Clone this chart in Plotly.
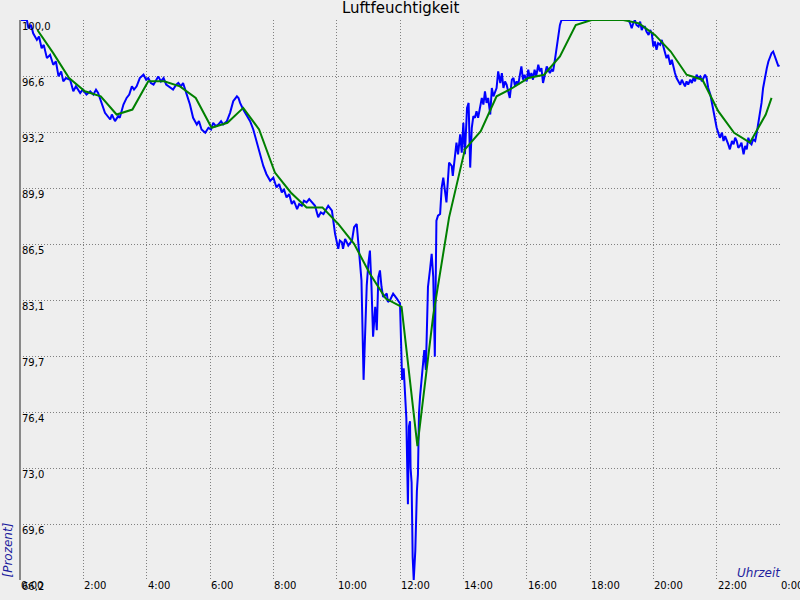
import plotly.graph_objects as go

# ---- data (time in minutes after midnight, relative humidity in %) ----
blue_min = [0, 13, 16, 21, 25, 32, 36, 41, 45, 51, 57, 63, 68, 73, 78, 82, 87, 95, 101, 106,
            114, 119, 126, 133, 139, 144, 148, 155, 161, 171, 174, 180, 186, 189, 196, 202, 207,
            212, 216, 221, 227, 234, 239, 243, 248, 253, 258, 262, 267, 272, 277, 281, 286, 290,
            296, 300, 305, 309, 316, 322, 328, 335, 339, 344, 351, 357, 362, 366, 371, 376, 381,
            385, 392, 398, 404, 411, 414, 417, 423, 430, 436, 442, 449, 455, 461, 467, 474, 480,
            486, 491, 496, 500, 505, 510, 515, 519, 525, 529, 534, 538, 543, 548, 553, 559, 565,
            570, 575, 580, 584, 591, 594, 597, 603, 606, 610, 612, 616, 622, 629, 633, 638, 641,
            644, 647, 651, 654, 657, 660, 663, 666, 669, 673, 676, 679, 682, 685, 688, 695, 697,
            701, 707, 714, 720, 724, 727, 732, 734, 735, 737, 739, 740, 742, 744, 746, 749, 750,
            752, 754, 755, 756, 758, 761, 764, 766, 769, 772, 773, 777, 780, 783, 786, 789, 792,
            796, 799, 802, 805, 808, 813, 818, 820, 824, 827, 830, 834, 837, 840, 843, 847, 850,
            853, 856, 859, 862, 865, 868, 872, 875, 878, 881, 884, 887, 891, 894, 897, 900, 903,
            906, 910, 913, 916, 919, 922, 925, 928, 932, 935, 938, 941, 944, 947, 950, 953, 956,
            960, 963, 966, 969, 972, 975, 978, 982, 985, 988, 991, 994, 998, 1001, 1004, 1007,
            1010, 1014, 1017, 1020, 1023, 1026, 1153, 1156, 1159, 1162, 1165, 1168, 1172, 1175,
            1178, 1181, 1184, 1187, 1191, 1194, 1197, 1200, 1203, 1206, 1209, 1213, 1216, 1219,
            1222, 1225, 1228, 1232, 1235, 1238, 1241, 1244, 1247, 1251, 1254, 1257, 1260, 1263,
            1266, 1270, 1273, 1276, 1279, 1282, 1285, 1289, 1292, 1295, 1298, 1301, 1304, 1308,
            1311, 1314, 1317, 1320, 1323, 1326, 1330, 1333, 1336, 1339, 1342, 1345, 1349, 1352,
            1355, 1358, 1361, 1364, 1367, 1371, 1374, 1377, 1380, 1383, 1386, 1389, 1393, 1396,
            1399, 1402, 1405, 1408, 1412, 1415, 1418, 1421, 1424, 1427, 1431, 1434, 1437, 1438]
blue_val = [100.0, 100.0, 99.5, 99.7, 99.2, 98.8, 99.0, 98.3, 98.5, 97.7, 97.9, 97.3, 97.5, 96.6,
            96.9, 96.3, 96.5, 96.4, 95.7, 96.0, 95.6, 95.8, 95.5, 95.7, 95.5, 95.8, 95.6, 95.0,
            94.4, 94.0, 94.3, 93.9, 94.2, 94.1, 94.9, 95.3, 95.5, 96.0, 95.8, 96.0, 96.5, 96.7,
            96.4, 96.5, 96.2, 96.1, 96.4, 96.6, 96.3, 96.5, 96.1, 96.0, 95.9, 95.8, 96.1, 96.2,
            96.0, 96.2, 95.5, 94.9, 94.1, 93.7, 93.9, 93.4, 93.2, 93.5, 93.4, 93.8, 93.6, 93.7,
            93.9, 93.7, 93.9, 94.4, 95.1, 95.4, 95.3, 95.0, 94.6, 94.2, 93.9, 93.4, 92.6, 92.0,
            91.2, 90.7, 90.3, 90.5, 89.9, 90.1, 89.6, 89.8, 89.3, 89.5, 88.9, 89.1, 88.6, 88.9,
            88.8, 89.1, 89.0, 89.2, 89.0, 88.8, 88.1, 88.4, 88.3, 88.6, 88.8, 88.5, 87.9, 87.1,
            86.2, 86.7, 86.6, 86.2, 86.8, 86.4, 86.7, 87.5, 87.7, 86.7, 85.7, 84.3, 78.3, 81.9,
            84.0, 85.3, 86.1, 83.9, 80.9, 82.7, 81.3, 84.5, 84.9, 83.9, 83.3, 83.5, 83.0, 83.1,
            83.5, 83.2, 82.9, 78.3, 79.0, 76.0, 71.6, 70.8, 75.5, 75.8, 73.0, 72.1, 67.6, 66.23,
            68.0, 70.2, 71.6, 72.6, 75.7, 76.3, 77.3, 78.3, 79.5, 80.1, 78.9, 82.0, 83.9, 85.0,
            85.9, 84.5, 79.7, 87.9, 88.2, 88.3, 89.9, 90.5, 89.6, 89.0, 91.4, 91.2, 90.6, 92.0,
            92.6, 91.9, 93.1, 92.0, 93.8, 91.9, 94.7, 95.0, 91.1, 93.5, 94.2, 94.1, 94.5, 94.1,
            94.8, 95.3, 94.9, 95.7, 95.0, 95.3, 94.3, 95.9, 95.4, 95.6, 95.9, 96.9, 96.2, 96.8,
            95.9, 96.3, 96.1, 95.7, 95.3, 96.4, 96.5, 96.0, 96.3, 96.1, 96.6, 97.2, 96.4, 96.7,
            96.3, 97.0, 96.5, 96.8, 96.4, 97.0, 96.6, 97.3, 96.9, 97.1, 96.2, 96.7, 97.2, 97.0,
            96.8, 97.0, 96.9, 97.7, 98.3, 99.1, 99.7, 100.0, 100.0, 99.8, 99.5, 99.8, 100.0, 99.7,
            99.6, 99.9, 99.4, 99.6, 99.6, 99.3, 99.1, 99.4, 99.2, 98.4, 98.7, 98.2, 98.6, 98.5,
            98.8, 98.4, 98.1, 97.7, 97.9, 97.3, 97.6, 97.1, 96.8, 96.5, 96.3, 96.1, 96.4, 96.2,
            96.0, 96.3, 96.1, 96.4, 96.2, 96.5, 96.3, 96.7, 96.5, 96.6, 96.3, 96.5, 96.7, 96.5,
            95.9, 95.5, 95.0, 94.4, 93.8, 93.5, 93.2, 92.9, 93.2, 92.7, 93.0, 92.8, 92.5, 92.2,
            92.7, 92.5, 92.9, 92.7, 92.3, 92.4, 92.6, 91.9, 92.4, 92.2, 92.9, 92.6, 92.5, 92.8,
            92.7, 93.2, 93.8, 94.4, 95.0, 95.9, 96.7, 97.1, 97.5, 97.8, 98.0, 98.1, 97.7, 97.5,
            97.2, 97.3]

green_min = [33, 63, 93, 123, 153, 183, 213, 243, 273, 303, 333, 363, 393, 423, 453, 483, 513,
             543, 573, 603, 633, 663, 693, 723, 753, 783, 813, 843, 873, 903, 933, 963, 993, 1023,
             1053, 1083, 1113, 1143, 1173, 1203, 1233, 1263, 1293, 1323, 1353, 1383, 1413, 1424]
green_val = [99.4, 98.0, 96.5, 95.7, 95.4, 94.3, 94.6, 96.3, 96.3, 96.0, 95.3, 93.5, 93.8, 94.7,
             93.4, 90.8, 89.6, 88.7, 88.7, 87.7, 86.5, 84.7, 83.2, 82.7, 74.3, 82.2, 88.1, 92.2,
             93.3, 95.4, 95.9, 96.5, 96.7, 97.8, 99.7, 100.0, 100.0, 100.0, 99.8, 99.1, 98.1,
             96.7, 96.4, 94.5, 93.2, 92.6, 94.3, 95.3]

y_tickvals = [66.23, 69.607, 72.984, 76.361, 79.738, 83.115, 86.492, 89.869, 93.246, 96.623, 100.0]
y_ticktext = ["66,2", "69,6", "73,0", "76,4", "79,7", "83,1", "86,5", "89,9", "93,2", "96,6", "100,0"]
x_tickvals = [0, 120, 240, 360, 480, 600, 720, 840, 960, 1080, 1200, 1320, 1440]
x_ticktext = ["0:00", "2:00", "4:00", "6:00", "8:00", "10:00", "12:00", "14:00", "16:00",
              "18:00", "20:00", "22:00", "0:00"]

title_text = "Luftfeuchtigkeit"
y_title = "[Prozent]"
x_title = "Uhrzeit"

FONT = "DejaVu Sans"
BG = "#eeeeee"
AXCOL = "#1e1e9e"
GRID = "#808080"

fig = go.Figure()
fig.add_trace(go.Scatter(x=blue_min, y=blue_val, mode="lines",
                         line=dict(color="#0000ff", width=2), cliponaxis=False,
                         hoverinfo="skip", showlegend=False))
fig.add_trace(go.Scatter(x=green_min, y=green_val, mode="lines",
                         line=dict(color="#008000", width=2), cliponaxis=False,
                         hoverinfo="skip", showlegend=False))

annotations = []
for v, t in zip(y_tickvals, y_ticktext):
    annotations.append(dict(x=0, xref="paper", y=v, yref="y", text=t, showarrow=False,
                            xanchor="left", yanchor="top", xshift=0, yshift=1.5,
                            font=dict(family=FONT, size=10, color="#000000")))
for v, t in zip(x_tickvals, x_ticktext):
    annotations.append(dict(x=v, xref="x", y=0, yref="paper", text=t, showarrow=False,
                            xanchor="left", yanchor="top", xshift=-1, yshift=2.5,
                            font=dict(family=FONT, size=10, color="#000000")))
annotations.append(dict(x=0.5, xref="paper", y=1, yref="paper", text=title_text,
                        showarrow=False, xanchor="center", yanchor="bottom", yshift=1,
                        font=dict(family=FONT, size=15, color="#000000")))
annotations.append(dict(x=0, xref="paper", y=0, yref="paper", text="<i>" + y_title + "</i>",
                        showarrow=False, xanchor="right", yanchor="bottom", textangle=-90,
                        xshift=-4, font=dict(family=FONT, size=12, color=AXCOL)))
annotations.append(dict(x=1, xref="paper", y=0, yref="paper", text="<i>" + x_title + "</i>",
                        showarrow=False, xanchor="right", yanchor="bottom",
                        xshift=3, yshift=-2,
                        font=dict(family=FONT, size=12, color=AXCOL)))

fig.update_layout(
    width=800, height=600,
    margin=dict(l=20, r=20, t=20, b=20),
    paper_bgcolor=BG, plot_bgcolor=BG,
    annotations=annotations,
    showlegend=False,
)
fig.update_xaxes(range=[0, 1440], tickvals=x_tickvals, showticklabels=False,
                 showgrid=True, gridcolor=GRID, griddash="1px,2px", gridwidth=1,
                 zeroline=False, showline=False, ticks="")
fig.update_yaxes(range=[66.23, 100.0], tickvals=y_tickvals, showticklabels=False,
                 showgrid=True, gridcolor=GRID, griddash="1px,2px", gridwidth=1,
                 zeroline=False, showline=False, ticks="")
fig.add_shape(type="line", xref="paper", yref="paper", x0=0, x1=0, y0=0, y1=1,
              line=dict(color="#888888", width=2))

fig.write_html("out.html",
               config={"displayModeBar": False, "staticPlot": True},
               post_script="document.body.style.margin='0';document.body.style.padding='0';"
                           "document.body.style.overflow='hidden';"
                           "document.body.style.background='#eeeeee';")
